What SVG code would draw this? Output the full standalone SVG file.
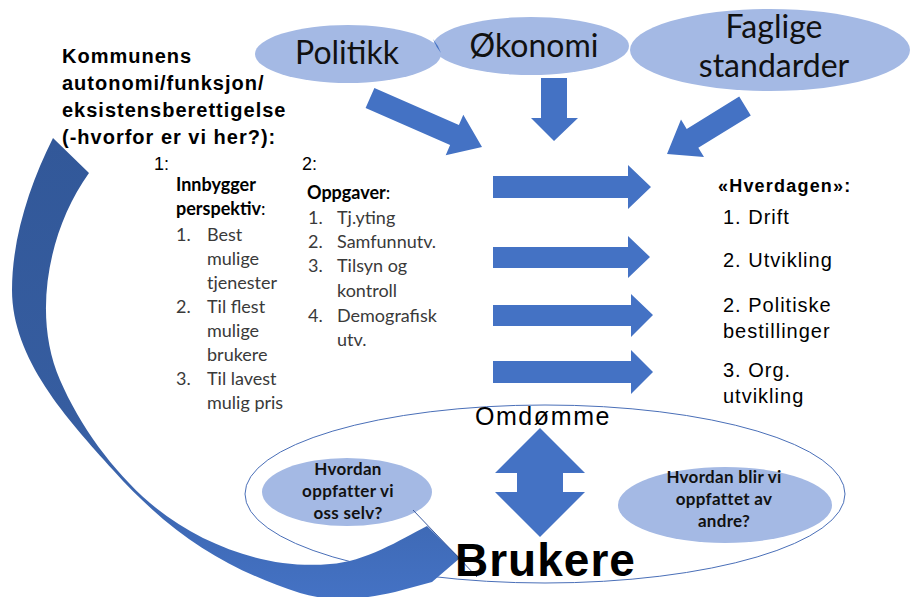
<svg xmlns="http://www.w3.org/2000/svg" width="910" height="597" viewBox="0 0 910 597">
<style>
.ell{fill:#a4b9e4;}
.blk{fill:#4472c4;}
.big{font-family:Lato,"Liberation Sans",sans-serif;font-size:32px;fill:#111;text-anchor:middle;}
.title{font-family:"Liberation Sans",Arial,sans-serif;font-size:20px;font-weight:bold;letter-spacing:1px;fill:#000;}
.num{font-family:"Liberation Sans",Arial,sans-serif;font-size:18px;fill:#000;}
.col{font-family:Lato,"Liberation Sans",sans-serif;font-size:18px;fill:#3a3a3a;}
.colb{font-family:Lato,"Liberation Sans",sans-serif;font-size:18px;font-weight:bold;fill:#000;}
.hv{font-family:"Liberation Sans",Arial,sans-serif;font-size:20px;letter-spacing:1px;fill:#000;}
.hvb{font-family:"Liberation Sans",Arial,sans-serif;font-size:18px;font-weight:bold;letter-spacing:1.2px;fill:#000;}
.q{font-family:Lato,"Liberation Sans",sans-serif;font-size:17px;font-weight:bold;letter-spacing:0.3px;fill:#111;text-anchor:middle;}
</style>
<defs>
<linearGradient id="cg" gradientUnits="userSpaceOnUse" x1="0" y1="140" x2="0" y2="597">
<stop offset="0" stop-color="#325899"/>
<stop offset="0.6" stop-color="#365da0"/>
<stop offset="1" stop-color="#4472c4"/>
</linearGradient>
</defs>
<rect width="910" height="597" fill="#fff"/>

<g id="omdomme">
<ellipse cx="545" cy="494" rx="300" ry="89" fill="none" stroke="#4a6fb8" stroke-width="1"/>
<text x="543" y="425" font-family="'Liberation Sans',Arial,sans-serif" font-size="25" letter-spacing="1.6" text-anchor="middle" fill="#000">Omdømme</text>
</g>

<g id="politikk">
<ellipse class="ell" cx="348" cy="54" rx="93" ry="29"/>
<text class="big" x="347" y="64">Politikk</text>
</g>
<g id="okonomi">
<ellipse class="ell" cx="531" cy="46" rx="98" ry="29"/>
<path d="M433,39 Q438,45 441,53 Q436,47 433,39 Z" fill="#4472c4"/>
<text class="big" x="534" y="57">Økonomi</text>
</g>
<g id="faglige">
<ellipse class="ell" cx="770" cy="50" rx="140" ry="41"/>
<text class="big" x="774" y="38">Faglige</text>
<text class="big" x="774" y="77">standarder</text>
</g>

<g id="kommunens">
<text class="title" x="62" y="63">Kommunens</text>
<text class="title" x="62" y="90">autonomi/funksjon/</text>
<text class="title" x="62" y="117">eksistensberettigelse</text>
<text class="title" x="62" y="144">(-hvorfor er vi her?):</text>
</g>

<g id="innbygger">
<text class="num" x="154" y="170">1:</text>
<text class="colb" x="176" y="191">Innbygger</text>
<text class="colb" x="176" y="215">perspektiv<tspan font-weight="normal">:</tspan></text>
<text class="col" x="176" y="241">1.</text><text class="col" x="207" y="241">Best</text>
<text class="col" x="207" y="265">mulige</text>
<text class="col" x="207" y="289">tjenester</text>
<text class="col" x="176" y="313">2.</text><text class="col" x="207" y="313">Til flest</text>
<text class="col" x="207" y="337">mulige</text>
<text class="col" x="207" y="361">brukere</text>
<text class="col" x="176" y="385">3.</text><text class="col" x="207" y="385">Til lavest</text>
<text class="col" x="207" y="409">mulig pris</text>
</g>

<g id="oppgaver">
<text class="num" x="302" y="170">2:</text>
<text class="colb" x="307" y="199" font-size="19">Oppgaver<tspan font-weight="normal">:</tspan></text>
<text class="col" x="308" y="224">1.</text><text class="col" x="337" y="224">Tj.yting</text>
<text class="col" x="308" y="248">2.</text><text class="col" x="337" y="248">Samfunnutv.</text>
<text class="col" x="308" y="272">3.</text><text class="col" x="337" y="272">Tilsyn og</text>
<text class="col" x="337" y="297">kontroll</text>
<text class="col" x="308" y="322">4.</text><text class="col" x="337" y="322">Demografisk</text>
<text class="col" x="337" y="346">utv.</text>
</g>

<g id="hverdagen">
<text class="hvb" x="718" y="192">«Hverdagen»:</text>
<text class="hv" x="723" y="224">1. Drift</text>
<text class="hv" x="723" y="267">2. Utvikling</text>
<text class="hv" x="723" y="312">2. Politiske</text>
<text class="hv" x="723" y="338">bestillinger</text>
<text class="hv" x="723" y="377">3. Org.</text>
<text class="hv" x="723" y="403">utvikling</text>
</g>

<g id="oss-selv">
<ellipse class="ell" cx="347" cy="492" rx="85" ry="34"/>
<text class="q" x="348" y="475">Hvordan</text>
<text class="q" x="348" y="497">oppfatter vi</text>
<text class="q" x="348" y="519">oss selv?</text>
</g>

<g id="andre">
<ellipse class="ell" cx="725" cy="505" rx="107" ry="38"/>
<text class="q" x="724" y="483">Hvordan blir vi</text>
<text class="q" x="724" y="505">oppfattet av</text>
<text class="q" x="724" y="527">andre?</text>
</g>

<g id="connectors">
<polygon class="blk" points="365.6,108.1 450.1,145.1 445.7,155.2 482,147 463.3,114.8 458.9,124.9 374.4,87.9"/>
<polygon class="blk" points="541,78 567,78 567,118 578,118 554,141 531,118 541,118"/>
<polygon class="blk" points="739.2,96.6 686.7,128.9 681,119.6 667,154 704,157 698.3,147.7 750.8,115.4"/>
<polygon class="blk" points="493,176 628,176 628,165 651,187 628,209 628,198 493,198"/>
<polygon class="blk" points="493,247 628,247 628,236 650,257 628,278 628,268 493,268"/>
<polygon class="blk" points="493,305 631,305 631,294 653,315 631,337 631,326 493,326"/>
<polygon class="blk" points="493,361 631,361 631,350 653,372 631,394 631,383 493,383"/>
<polygon class="blk" points="540,428 585,473 563,473 563,492 585,492 540,537 495,492 517,492 517,473 495,473"/>
<path fill="url(#cg)" d="M53,138 C30,184 12,238 12,290 C12,359 67,419 113,470 C173,537 229,570 300,593 C330,602 360,600 395,592 L432,582 L460,558 L427,526 C400,540 365,562 330,564 C267,570 198,544 150,503 C112,470 80,426 60,380 C32,316 48,230 89,173 Z"/>
<line x1="413" y1="510" x2="477" y2="577" stroke="#3b5ba0" stroke-width="1"/>
</g>

<g id="brukere">
<text x="455" y="576" font-family="'Liberation Sans',Arial,sans-serif" font-size="46" font-weight="bold" letter-spacing="1" fill="#000">Brukere</text>
</g>
</svg>
